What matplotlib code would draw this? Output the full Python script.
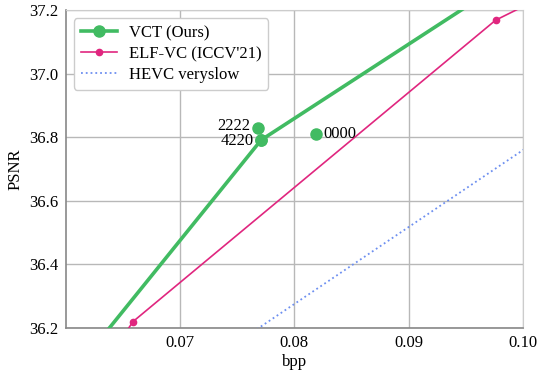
import matplotlib
matplotlib.use("Agg")
import matplotlib.pyplot as plt

plt.rcParams['font.family'] = ['Liberation Serif', 'DejaVu Serif']
plt.rcParams['font.size'] = 12

# rate-distortion points (bpp, PSNR); end points lie outside the view
vct_bpp = [0.0580, 0.0771, 0.1100]
vct_psnr = [35.94, 36.791, 37.56]
elf_bpp = [0.0620, 0.0659, 0.0976, 0.1050]
elf_psnr = [36.01, 36.22, 37.168, 37.30]
hevc_bpp = [0.0700, 0.1060]
hevc_psnr = [36.033, 36.905]

# single configurations
extra_labels = ['2222', '4220', '0000']
extra_bpp = [0.0768, 0.0771, 0.0819]
extra_psnr = [36.829, 36.791, 36.81]

green = '#41bb62'
pink = '#e0267f'
blue = '#6d8ff0'

fig = plt.figure(figsize=(5.37, 3.71), dpi=100)
ax = fig.add_axes([0.122, 0.116, 0.852, 0.857])

ax.plot(vct_bpp, vct_psnr, '-o', color=green, lw=2.6, ms=8, label='VCT (Ours)', zorder=4)
ax.plot(elf_bpp, elf_psnr, '-o', color=pink, lw=1.2, ms=4.5, label="ELF-VC (ICCV'21)", zorder=3)
ax.plot(hevc_bpp, hevc_psnr, ':', color=blue, lw=1.3, label='HEVC veryslow', zorder=3)

ax.scatter(extra_bpp, extra_psnr, s=64, color=green, zorder=5)
offsets = {'2222': (-5, 1.5), '4220': (-5, -1), '0000': (5, 0)}
for lab, xb, yp in zip(extra_labels, extra_bpp, extra_psnr):
    dx, dy = offsets[lab]
    ax.annotate(lab, (xb, yp), xytext=(dx, dy), textcoords='offset points',
                ha='left' if dx > 0 else 'right', va='center')

ax.set_xlim(0.06, 0.10)
ax.set_ylim(36.2, 37.2)
ax.set_xticks([0.07, 0.08, 0.09, 0.10])
ax.set_xticklabels(['0.07', '0.08', '0.09', '0.10'])
ax.set_yticks([36.2, 36.4, 36.6, 36.8, 37.0, 37.2])
ax.set_yticklabels(['36.2', '36.4', '36.6', '36.8', '37.0', '37.2'])
ax.set_xlabel('bpp', labelpad=2)
ax.set_ylabel('PSNR')

ax.grid(True, color='#b8b8b8', lw=1.0)
ax.tick_params(length=0, pad=5)
for side in ['top', 'right']:
    ax.spines[side].set_color('#cccccc')
for side in ['left', 'bottom']:
    ax.spines[side].set_color('#888888')
    ax.spines[side].set_linewidth(1.2)

leg = ax.legend(loc='upper left', fontsize=12, framealpha=1.0, edgecolor='#cccccc',
                handlelength=2.2, handletextpad=0.7, borderpad=0.4, labelspacing=0.3)

fig.savefig('out.png', dpi=100)
